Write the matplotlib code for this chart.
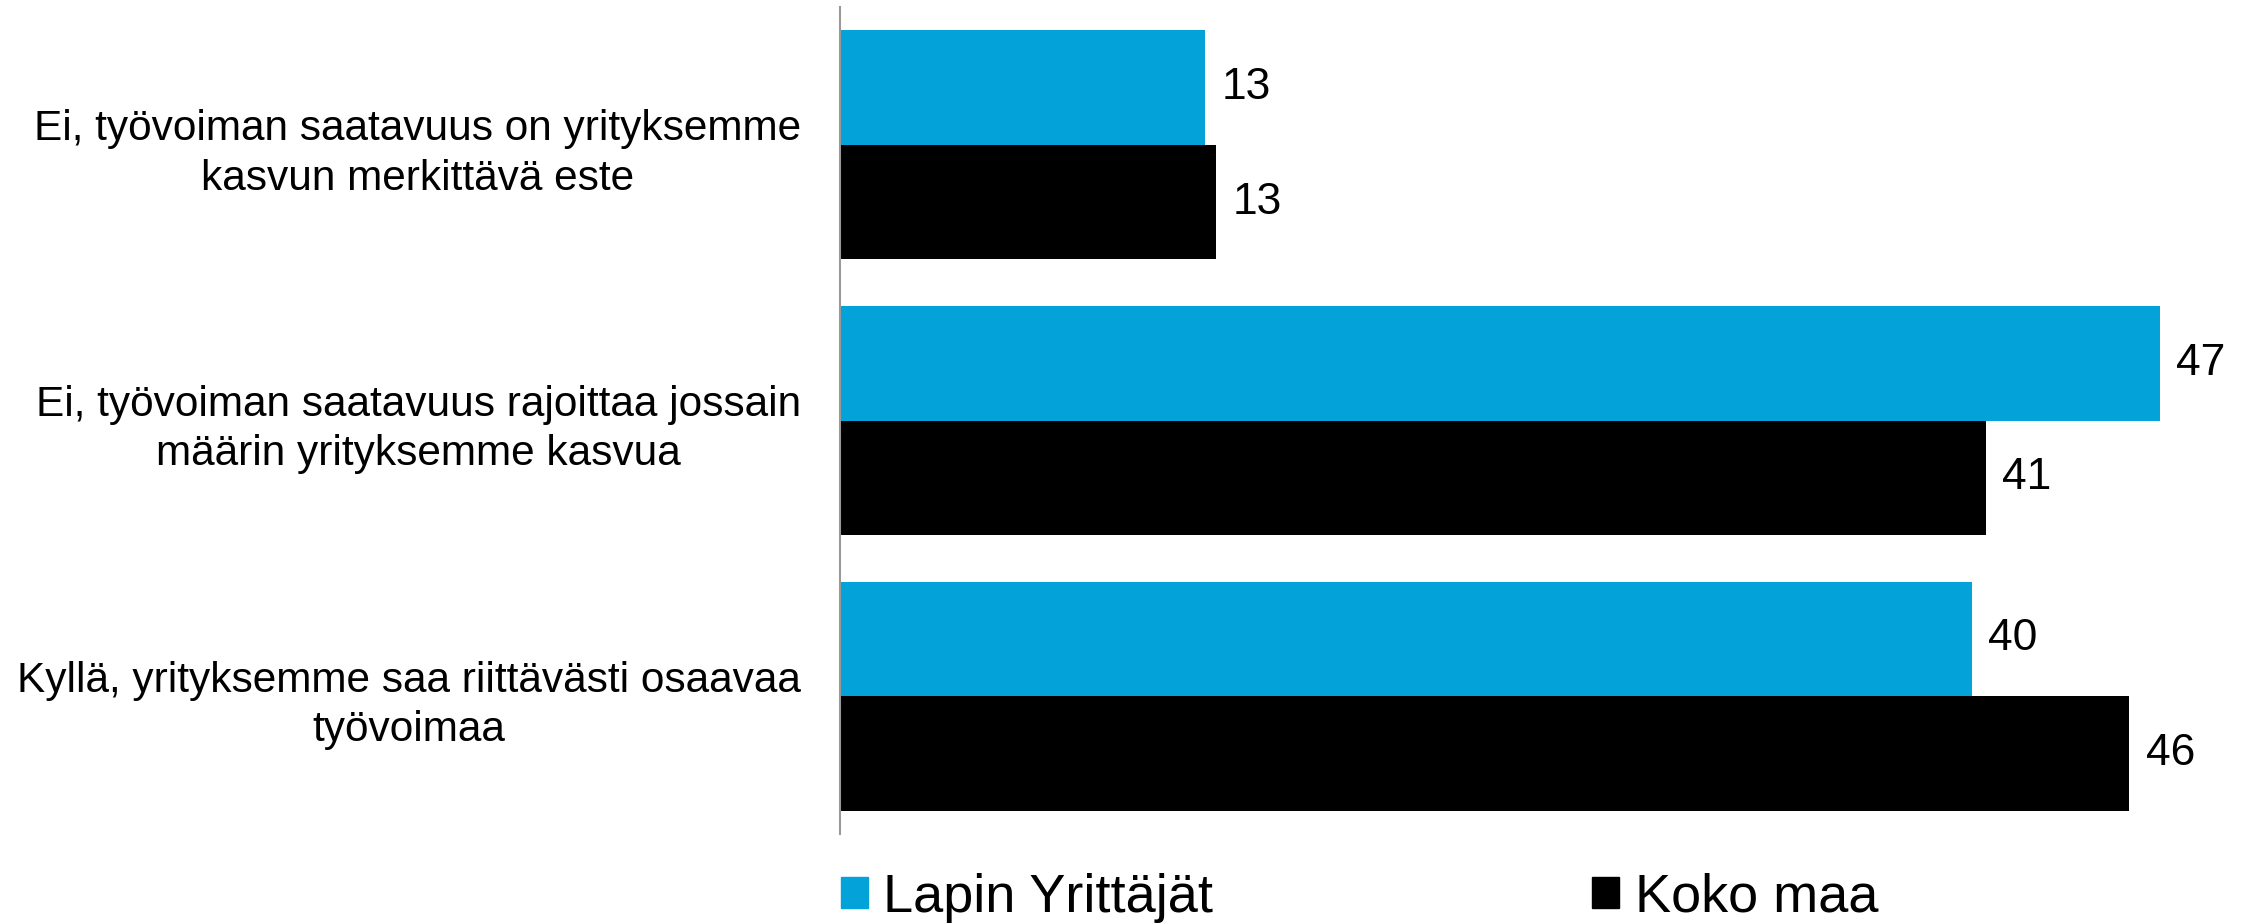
import matplotlib
matplotlib.use("Agg")
import matplotlib.pyplot as plt
from matplotlib.patches import Patch

categories = [
    "Ei, työvoiman saatavuus on yrityksemme\nkasvun merkittävä este",
    "Ei, työvoiman saatavuus rajoittaa jossain\nmäärin yrityksemme kasvua",
    "Kyllä, yrityksemme saa riittävästi osaavaa\ntyövoimaa",
]
series_names = ["Lapin Yrittäjät", "Koko maa"]
lapin = [13.0, 47.0, 40.3]
koko = [13.4, 40.8, 45.9]
colors = ["#03A3D9", "#000000"]

plt.rcParams['font.family'] = ['Liberation Sans', 'DejaVu Sans']

fig = plt.figure(figsize=(22.41, 9.24), dpi=100)
ax = fig.add_axes([840/2241, 1-834/924, 1390/2241, 827/924])

h = 0.415
ys = list(range(len(categories)))
b1 = ax.barh([y - h/2 for y in ys], lapin, height=h, color=colors[0], label=series_names[0])
b2 = ax.barh([y + h/2 for y in ys], koko, height=h, color=colors[1], label=series_names[1])
for bars in (b1, b2):
    ax.bar_label(bars, fmt='%.0f', padding=12, fontsize=32)

ax.set_ylim(2.5, -0.5)
ax.set_xlim(0, 49.5)
ax.set_yticks(ys)
ax.set_yticklabels(categories, fontsize=30.5, multialignment='center', linespacing=1.3)
ax.tick_params(axis='y', length=0, pad=28)
ax.set_xticks([])
for s in ['top', 'right', 'bottom']:
    ax.spines[s].set_visible(False)
ax.spines['left'].set_color('#999999')
ax.spines['left'].set_linewidth(1.5)

handles = [Patch(color=c) for c in colors]
fig.legend(handles, series_names, loc='center left', bbox_to_anchor=(841/2241, 1-898/924),
           ncol=2, frameon=False, fontsize=39, handlelength=0.5, handleheight=0.5,
           handletextpad=0.28, columnspacing=7.0, borderaxespad=0, borderpad=0)

fig.savefig("out.png", dpi=100)
